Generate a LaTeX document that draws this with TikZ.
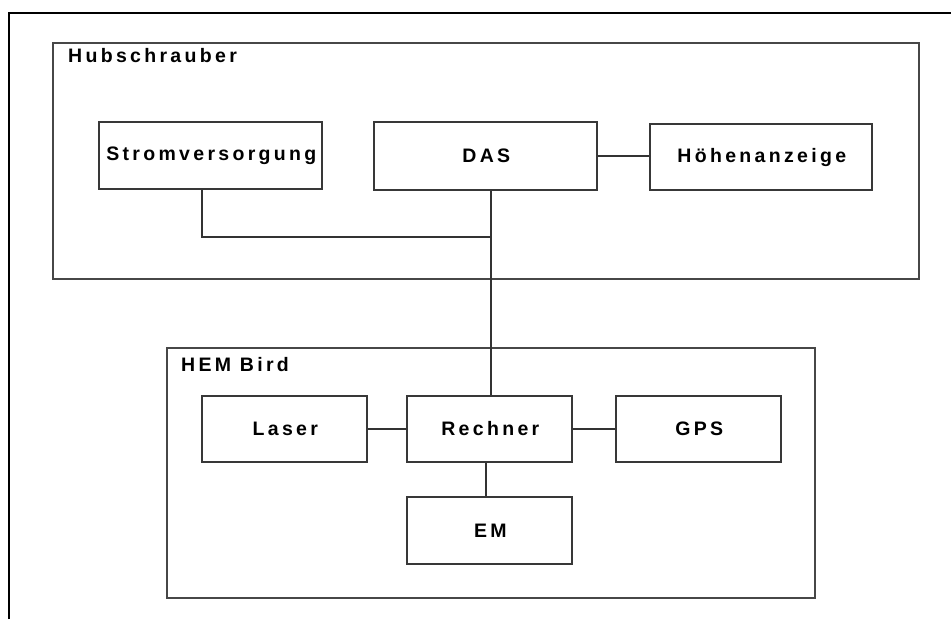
\documentclass[tikz,border=0pt]{standalone}
\usepackage{fontspec}
\newfontfamily\lblfont[LetterSpace=17]{Liberation Sans}
\begin{document}
\begin{tikzpicture}[x=1pt,y=-1pt,
  every node/.style={font=\lblfont\bfseries\fontsize{19.5}{22}\selectfont},
  unit/.style={draw=black!78,line width=1.3pt,fill=white,inner sep=0pt,
    minimum width=#1,minimum height=66pt},
  unit/.default=165pt,
  group/.style={draw=black!72,line width=1.5pt},
  link/.style={draw=black!80,line width=1.3pt},
  frame/.style={draw=black,line width=2.6pt}]
\useasboundingbox (0,0) rectangle (951,619);

% page frame (top and left edges)
\draw[frame] (9,619) -- (9,13) -- (951,13);

% group frames
\draw[group] (53,43) rectangle (919,279);
\node[anchor=west,inner sep=0pt] (hubtitle) at (68,56) {Hubschrauber};
\draw[group] (167,348) rectangle (815,598);
\node[anchor=west,inner sep=0pt] (hemtitle) at (181,365) {HEM Bird};

% helicopter units
\node[unit=223pt,minimum height=67pt] (strom) at (210.5,155.5) {\hspace{1.6pt}Stromversorgung};
\node[unit=223pt,minimum height=68pt] (das) at (485.5,156) {\hspace{1.6pt}DAS};
\node[unit=222pt] (hoehe) at (761,157) {\hspace{1.6pt}Höhenanzeige};

% bird units
\node[unit] (laser) at (284.5,429) {\hspace{1.6pt}Laser};
\node[unit] (rechner) at (489.5,429) {\hspace{1.6pt}Rechner};
\node[unit] (gps) at (698.5,429) {\hspace{1.6pt}GPS};
\node[unit,minimum height=67pt] (em) at (489.5,530.5) {\hspace{1.6pt}EM};

% connections
\coordinate (bus) at (491,237);
\draw[link] ([xshift=-8.5pt]strom.south) |- (bus);
\draw[link] (das.south -| bus) -- (rechner.north -| bus);
\draw[link] (das.east) -- (hoehe.west |- das.east);
\draw[link] (laser.east) -- (rechner.west);
\draw[link] (rechner.east) -- (gps.west);
\draw[link] ([xshift=-3.5pt]rechner.south) -- ([xshift=-3.5pt]em.north);
\end{tikzpicture}
\end{document}
